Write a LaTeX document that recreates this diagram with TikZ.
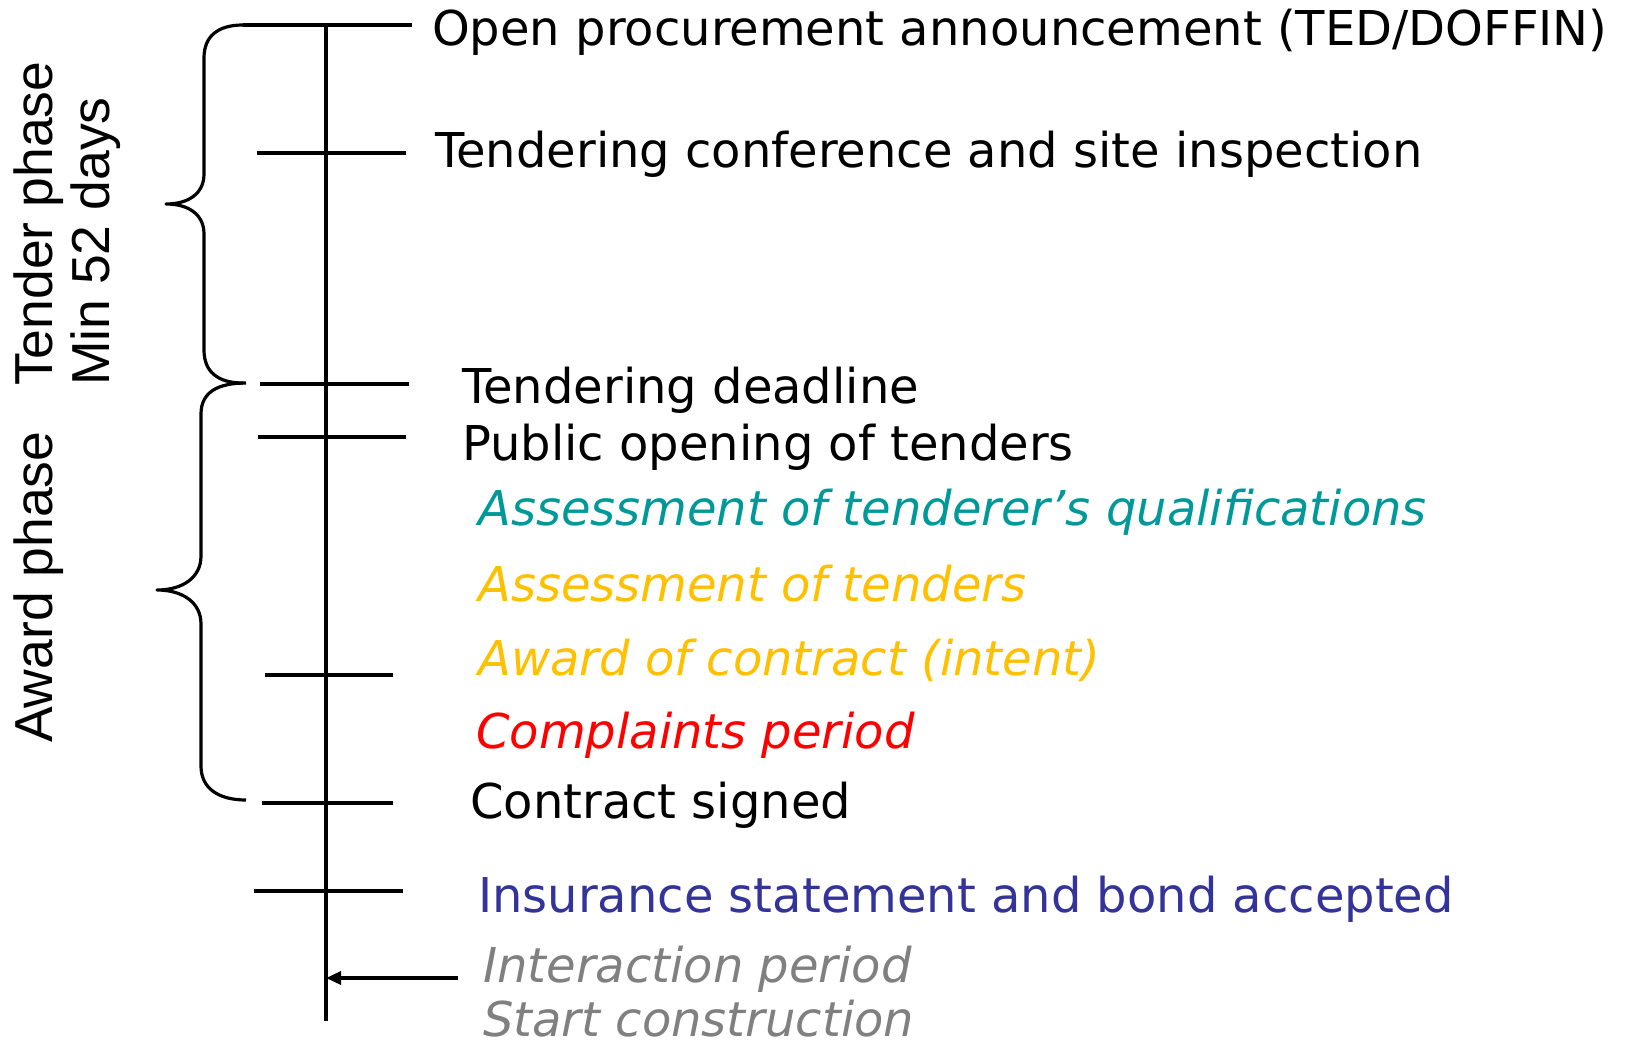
\documentclass[tikz,border=0pt]{standalone}
\usepackage{fontspec}
\setmainfont{DejaVu Sans}
\newfontfamily\phasefont{Liberation Sans}
\usetikzlibrary{arrows.meta}
\definecolor{qual_teal}{RGB}{0,153,153}
\definecolor{assess_amber}{RGB}{255,192,0}
\definecolor{insure_blue}{RGB}{51,51,153}
\definecolor{later_gray}{RGB}{128,128,128}
\tikzset{
event_text/.style={
	% Placed on its baseline, left end at the point
	anchor=base west,
	inner sep=0pt,
	% Font
	font=\fontsize{48}{56}\selectfont
},
step_text/.style={
	event_text,
	% Italic steps between the milestones
	font=\fontsize{48}{56}\selectfont\itshape
},
phase_text/.style={
	% Turned to read upwards
	rotate=90,
	anchor=north west,
	inner sep=0pt,
	align=left,
	font=\phasefont\fontsize{53.5}{57}\selectfont
},
time_axis/.style={line width=4.4pt},
tick/.style={line width=3.4pt},
phase_brace/.style={line width=3.2pt, line join=round}
}
\begin{document}
\begin{tikzpicture}[x=1pt,y=-1pt]
\useasboundingbox (0,0) rectangle (1633,1044);
% time line
\coordinate (axis_top) at (326,25);
\coordinate (axis_bottom) at (326,1021);
\draw[time_axis] (axis_top) -- (axis_bottom);
% milestone ticks
\foreach \ty/\txa/\txb in {25/243/412, 153/257/406, 384/260/409, 437/258/406,
	675/265/393, 803/262/393, 891/254/403}
	\draw[tick] (\txa,\ty) -- (\txb,\ty);
% braces
\draw[phase_brace] (243,25) .. controls (218,25) and (204,36) .. (204,58)
	-- (204,174) .. controls (204,194) and (188,204) .. (166,204)
	.. controls (188,204) and (204,214) .. (204,234)
	-- (204,350) .. controls (204,372) and (218,383) .. (243,383);
\draw[phase_brace] (246,383) .. controls (218,383) and (201,392) .. (201,414)
	-- (201,556) .. controls (201,578) and (182,590) .. (157,590)
	.. controls (182,590) and (201,602) .. (201,624)
	-- (201,766) .. controls (201,788) and (218,800) .. (246,800);
% phase labels
\node[phase_text] (tender_phase) at (14,386) {Tender phase\\Min 52 days};
\node[phase_text] (award_phase) at (14,743) {Award phase};
% events
\node[event_text] (announce) at (432,45) {Open procurement announcement (TED/DOFFIN)};
\node[event_text] (conference) at (435,167) {Tendering conference and site inspection};
\node[event_text] (deadline) at (462,403) {Tendering deadline};
\node[event_text] (opening) at (462,460) {Public opening of tenders};
\node[step_text, text=qual_teal] (qualify) at (478,525) {Assessment of tenderer’s qualifications};
\node[step_text, text=assess_amber] (assess) at (478,601) {Assessment of tenders};
\node[step_text, text=assess_amber] (award) at (478,675) {Award of contract (intent)};
\node[step_text, text=red] (complaints) at (476,748) {Complaints period};
\node[event_text] (signed) at (470,818) {Contract signed};
\node[event_text, text=insure_blue] (insurance) at (478,912) {Insurance statement and bond accepted};
\node[step_text, text=later_gray] (interaction) at (483,982) {Interaction period};
\node[step_text, text=later_gray, text depth=0pt] (start) at (483,1036) {Start construction};
% pointer to the axis
\coordinate (pointer_start) at (458,978);
\coordinate (pointer_end) at (axis_top |- pointer_start);
\draw[tick, -{Triangle[length=15pt,width=13pt]}] (pointer_start) -- (pointer_end);
\end{tikzpicture}
\end{document}
